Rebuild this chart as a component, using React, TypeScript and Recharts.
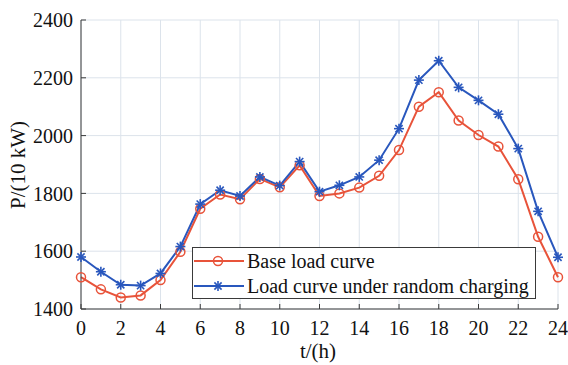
import React from "react";
import {
  LineChart,
  Line,
  XAxis,
  YAxis,
  CartesianGrid,
  Legend,
} from "recharts";

// hours of the day
const hours = [
  0, 1, 2, 3, 4, 5, 6, 7, 8, 9, 10, 11, 12, 13, 14, 15, 16, 17, 18, 19, 20, 21, 22, 23, 24,
];

// base load, 10 kW
const baseLoad = [
  1510, 1468, 1440, 1447, 1500, 1598, 1747, 1796, 1780, 1850, 1821, 1897, 1791, 1800, 1820,
  1861, 1950, 2100, 2150, 2052, 2002, 1962, 1849, 1650, 1510,
];

// load with random EV charging, 10 kW
const randomLoad = [
  1580, 1529, 1484, 1481, 1523, 1616, 1763, 1811, 1791, 1857, 1827, 1910, 1806, 1828, 1857,
  1915, 2024, 2192, 2259, 2167, 2122, 2074, 1955, 1738, 1579,
];

const xTicks = [0, 2, 4, 6, 8, 10, 12, 14, 16, 18, 20, 22, 24];
const yTicks = [1400, 1600, 1800, 2000, 2200, 2400];

const data = hours.map((t, i) => ({
  t,
  base: baseLoad[i],
  random: randomLoad[i],
}));

const RED = "#e8533a";
const BLUE = "#2957bd";
const AXIS = "#3a3a3a";
const FONT = "Liberation Serif, DejaVu Serif, Times New Roman, serif";

const CircleDot = (props: any) => {
  const { cx, cy } = props;
  if (cx == null || cy == null) return null;
  return <circle cx={cx} cy={cy} r={4.5} fill="none" stroke={RED} strokeWidth={1.5} />;
};

const StarDot = (props: any) => {
  const { cx, cy } = props;
  if (cx == null || cy == null) return null;
  const s = 5;
  const d = 3.6;
  return (
    <g stroke={BLUE} strokeWidth={1.6}>
      <line x1={cx - s} y1={cy} x2={cx + s} y2={cy} />
      <line x1={cx} y1={cy - s} x2={cx} y2={cy + s} />
      <line x1={cx - d} y1={cy - d} x2={cx + d} y2={cy + d} />
      <line x1={cx - d} y1={cy + d} x2={cx + d} y2={cy - d} />
    </g>
  );
};

const LegendBox = () => (
  <div
    style={{
      width: 342,
      height: 50,
      border: `1px solid ${AXIS}`,
      background: "#fff",
      fontFamily: FONT,
      fontSize: 20,
      color: "#111",
      boxSizing: "content-box",
    }}
  >
    {[
      { label: "Base load curve", color: RED, dot: <CircleDot cx={25} cy={12} /> },
      { label: "Load curve under random charging", color: BLUE, dot: <StarDot cx={25} cy={12} /> },
    ].map((row) => (
      <div key={row.label} style={{ display: "flex", alignItems: "center", height: 24, marginTop: 1 }}>
        <svg width={54} height={24} style={{ display: "block" }}>
          <line x1={1} y1={12} x2={51} y2={12} stroke={row.color} strokeWidth={2} />
          {row.dot}
        </svg>
        <span style={{ lineHeight: "24px", whiteSpace: "nowrap", fontFamily: FONT }}>{row.label}</span>
      </div>
    ))}
  </div>
);

const tickStyle = { fill: "#111", fontSize: 20, fontFamily: FONT };

export default function App() {
  return (
    <div style={{ position: "absolute", left: 0, top: 0, background: "#fff", fontFamily: FONT }}>
      <LineChart
        width={568}
        height={365}
        data={data}
        margin={{ top: 20, right: 10, bottom: 0, left: 0 }}
        style={{ fontFamily: FONT }}
      >
        <CartesianGrid stroke="#dce3eb" strokeWidth={1} />
        <XAxis
          dataKey="t"
          type="number"
          domain={[0, 24]}
          ticks={xTicks}
          height={56}
          stroke={AXIS}
          tickSize={-5}
          tickMargin={17}
          tick={tickStyle}
          interval={0}
        />
        <XAxis
          xAxisId="top"
          orientation="top"
          dataKey="t"
          type="number"
          domain={[0, 24]}
          ticks={xTicks}
          height={0}
          stroke={AXIS}
          tickSize={-5}
          tick={false}
        />
        <YAxis
          type="number"
          domain={[1400, 2400]}
          ticks={yTicks}
          width={81}
          stroke={AXIS}
          tickSize={-5}
          tickMargin={13}
          tick={tickStyle}
          interval={0}
        />
        <YAxis
          yAxisId="right"
          orientation="right"
          type="number"
          domain={[1400, 2400]}
          ticks={yTicks}
          width={0}
          stroke={AXIS}
          tickSize={-5}
          tick={false}
        />
        <Line
          dataKey="base"
          stroke={RED}
          strokeWidth={2}
          dot={<CircleDot />}
          activeDot={false}
          isAnimationActive={false}
        />
        <Line
          dataKey="random"
          stroke={BLUE}
          strokeWidth={2}
          dot={<StarDot />}
          activeDot={false}
          isAnimationActive={false}
        />
        <Legend
          layout="horizontal"
          verticalAlign="middle"
          align="center"
          content={() => <LegendBox />}
          wrapperStyle={{ left: 192, top: 247, width: 344, height: 52 }}
        />
        <text
          x={18}
          y={165}
          transform="rotate(-90 18 165)"
          textAnchor="middle"
          dominantBaseline="central"
          fontFamily={FONT}
          fontSize={21}
          fill="#111"
        >
          P/(10 kW)
        </text>
        <text
          x={318}
          y={358}
          textAnchor="middle"
          fontFamily={FONT}
          fontSize={21}
          fill="#111"
        >
          t/(h)
        </text>
      </LineChart>
    </div>
  );
}
